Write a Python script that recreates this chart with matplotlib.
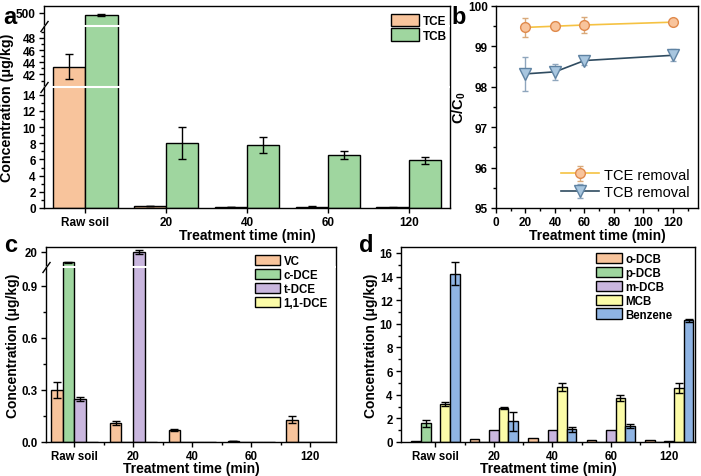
import numpy as np
import matplotlib
matplotlib.use('Agg')
import matplotlib.pyplot as plt
from matplotlib.ticker import FixedLocator, MultipleLocator

plt.rcParams['font.family'] = ['Liberation Sans', 'DejaVu Sans']
plt.rcParams['font.weight'] = 'bold'
plt.rcParams['axes.labelweight'] = 'bold'
plt.rcParams['mathtext.fontset'] = 'custom'
plt.rcParams['mathtext.rm'] = 'Liberation Sans:bold'
plt.rcParams['mathtext.bf'] = 'Liberation Sans:bold'
plt.rcParams['mathtext.default'] = 'bf'

# ---- data ----
groups = ['Raw soil', '20', '40', '60', '120']

# (a) TCE / TCB concentration
tce = [43.3, 0.25, 0.15, 0.18, 0.08]
tce_err = [2.0, 0.05, 0.03, 0.04, 0.02]
tcb = [499.6, 8.0, 7.8, 6.5, 5.9]
tcb_err = [0.12, 2.0, 1.0, 0.5, 0.45]

# (b) removal
times = [20, 40, 60, 120]
tce_rm = [99.47, 99.50, 99.53, 99.60]
tce_rm_err = [0.23, 0.10, 0.21, 0.05]
tcb_rm = [98.32, 98.37, 98.65, 98.78]
tcb_rm_err = [0.42, 0.20, 0.10, 0.15]

# (c) chloroethenes
vc = [0.30, 0.109, 0.069, 0.006, 0.128]
vc_err = [0.048, 0.01, 0.008, 0.002, 0.02]
cdce = [18.73, 0, 0, 0, 0]
cdce_err = [0.05, 0, 0, 0, 0]
tdce = [0.247, 20.03, 0, 0, 0]
tdce_err = [0.01, 0.25, 0, 0, 0]
dce11 = [0, 0, 0, 0, 0]
dce11_err = [0, 0, 0, 0, 0]

# (d) chlorobenzenes
odcb = [0.06, 0.28, 0.37, 0.17, 0.15]
odcb_err = [0, 0, 0, 0, 0]
pdcb = [1.58, 0, 0, 0, 0]
pdcb_err = [0.3, 0, 0, 0, 0]
mdcb = [0, 1.04, 1.04, 1.04, 0.1]
mdcb_err = [0, 0, 0, 0, 0]
mcb = [3.25, 2.88, 4.65, 3.75, 4.57]
mcb_err = [0.17, 0.08, 0.32, 0.25, 0.45]
benz = [14.25, 1.75, 1.07, 1.35, 10.3]
benz_err = [1.0, 0.8, 0.2, 0.2, 0.15]

c_orange = '#F8C49C'
c_green = '#9FD69F'
c_purple = '#C9B6DE'
c_yellow = '#FCFCA8'
c_blue = '#8FB4E3'

W, H = 701, 477
fig = plt.figure(figsize=(W / 100, H / 100), dpi=100)


def px_axes(l, t, r, b):
    return fig.add_axes([l / W, 1 - b / H, (r - l) / W, (b - t) / H])


def piecewise(vals, pos):
    # broken y axis as a piecewise linear scale
    fwd = lambda y: np.interp(y, vals, pos)
    inv = lambda p: np.interp(p, pos, vals)
    return fwd, inv


def style(ax, fs):
    for s in ax.spines.values():
        s.set_linewidth(1.0)
    ax.tick_params(which='major', direction='out', length=3.5, width=1, labelsize=fs, pad=2.5)
    ax.tick_params(which='minor', direction='out', length=2, width=1)


def bars(ax, series, errs, colors, labels, width):
    x = np.arange(len(groups))
    n = len(series)
    for i in range(n):
        xi = x + (i - (n - 1) / 2) * width
        ax.bar(xi, series[i], width, color=colors[i], edgecolor='black',
               linewidth=1, label=labels[i], zorder=2)
        e = np.array(errs[i])
        m = e > 0
        if m.any():
            ax.errorbar(xi[m], np.array(series[i])[m], yerr=e[m], fmt='none',
                        ecolor='black', elinewidth=1, capsize=3, capthick=1, zorder=3)


def break_mark(ax, y):
    # white gap across the bars plus a slash on the left spine
    ax.axhline(y, xmin=0.003, xmax=0.997, color='white', lw=1.5, zorder=4)
    ax.plot([0], [y], marker=[(-1, -1.4), (1, 1.4)], markersize=8, color='black',
            mew=1, transform=ax.get_yaxis_transform(), clip_on=False, zorder=5,
            linestyle='none')


# ---- (a) ----
ax = px_axes(44, 7, 450, 209)
fwd, inv = piecewise([0, 15, 40, 50, 498, 501],
                     [0, 0.6005, 0.6006, 0.9025, 0.9026, 1.0])
ax.set_yscale('function', functions=(fwd, inv))
bars(ax, [tce, tcb], [tce_err, tcb_err], [c_orange, c_green], ['TCE', 'TCB'], 0.4)
ax.set_ylim(0, 501)
ax.set_xlim(-0.51, 4.51)
ax.yaxis.set_major_locator(FixedLocator([0, 2, 4, 6, 8, 10, 12, 14, 42, 44, 46, 48, 500]))
ax.yaxis.set_minor_locator(FixedLocator([1, 3, 5, 7, 9, 11, 13, 41, 43, 45, 47, 49]))
ax.set_xticks(range(len(groups)))
ax.set_xticklabels(groups)
style(ax, 8.5)
break_mark(ax, 15)
break_mark(ax, 50)
ax.set_ylabel('Concentration (μg/kg)', fontsize=10.3, labelpad=1)
ax.set_xlabel('Treatment time (min)', fontsize=10, labelpad=0)
ax.legend(loc='upper right', bbox_to_anchor=(1.012, 1.0), frameon=False, fontsize=8.5,
          handlelength=2.4, handleheight=1.2, labelspacing=0.1, handletextpad=0.3,
          borderaxespad=0.3)

# ---- (b) ----
ax = px_axes(496, 7, 698, 209)
ax.errorbar(times, tce_rm, yerr=tce_rm_err, color='#F5C242', lw=1.2, marker='o',
            ms=7, mfc='#F8C49C', mec='#E08A4C', mew=1, ecolor='#D9A97A',
            elinewidth=1, capsize=2.5, label='TCE removal')
ax.errorbar(times, tcb_rm, yerr=tcb_rm_err, color='#2F4B60', lw=1.2, marker='v',
            ms=8, mfc='#A8C6DF', mec='#5F83A3', mew=1, ecolor='#8FA6BD',
            elinewidth=1, capsize=2.5, label='TCB removal')
ax.set_xlim(0, 137)
ax.set_ylim(95, 100)
ax.xaxis.set_major_locator(MultipleLocator(20))
ax.xaxis.set_minor_locator(MultipleLocator(10))
ax.yaxis.set_major_locator(MultipleLocator(1))
ax.yaxis.set_minor_locator(MultipleLocator(0.5))
style(ax, 8.5)
ax.set_ylabel('C/C$_0$', fontsize=10.5, labelpad=0)
ax.set_xlabel('Treatment time (min)', fontsize=10, labelpad=0)
ax.legend(loc='lower right', frameon=False, prop={'size': 10.5, 'weight': 'normal'},
          handlelength=2.6, labelspacing=0.25, handletextpad=0.3, borderaxespad=0.2)

# ---- (c) ----
ax = px_axes(46, 248, 336, 443)
fwd, inv = piecewise([0, 1.01, 18.2, 20.6], [0, 0.899, 0.8991, 1.0])
ax.set_yscale('function', functions=(fwd, inv))
bars(ax, [vc, cdce, tdce, dce11], [vc_err, cdce_err, tdce_err, dce11_err],
     [c_orange, c_green, c_purple, c_yellow], ['VC', 'c-DCE', 't-DCE', '1,1-DCE'], 0.2)
ax.set_ylim(0, 20.6)
ax.set_xlim(-0.48, 4.44)
ax.yaxis.set_major_locator(FixedLocator([0, 0.3, 0.6, 0.9, 20]))
ax.set_yticklabels(['0.0', '0.3', '0.6', '0.9', '20'])
ax.yaxis.set_minor_locator(FixedLocator([0.15, 0.45, 0.75]))
ax.set_xticks(range(len(groups)))
ax.set_xticklabels(groups)
ax.xaxis.set_minor_locator(FixedLocator([-0.5, 0.5, 1.5, 2.5, 3.5]))
style(ax, 8.3)
break_mark(ax, 1.01)
ax.set_ylabel('Concentration (μg/kg)', fontsize=10, labelpad=1)
ax.set_xlabel('Treatment time (min)', fontsize=10, labelpad=-1)
ax.legend(loc='upper right', frameon=False, fontsize=8.3, handlelength=2.2,
          handleheight=1.0, labelspacing=0.15, handletextpad=0.3, borderaxespad=0.3)

# ---- (d) ----
ax = px_axes(401, 248, 695, 443)
bars(ax, [odcb, pdcb, mdcb, mcb, benz],
     [odcb_err, pdcb_err, mdcb_err, mcb_err, benz_err],
     [c_orange, c_green, c_purple, c_yellow, c_blue],
     ['o-DCB', 'p-DCB', 'm-DCB', 'MCB', 'Benzene'], 0.165)
ax.set_ylim(0, 16.5)
ax.set_xlim(-0.59, 4.44)
ax.yaxis.set_major_locator(MultipleLocator(2))
ax.yaxis.set_minor_locator(MultipleLocator(1))
ax.set_xticks(range(len(groups)))
ax.set_xticklabels(groups)
ax.xaxis.set_minor_locator(FixedLocator([0.5, 1.5, 2.5, 3.5]))
style(ax, 8.3)
ax.set_ylabel('Concentration (μg/kg)', fontsize=10, labelpad=1)
ax.set_xlabel('Treatment time (min)', fontsize=10, labelpad=-1)
ax.legend(loc='upper right', bbox_to_anchor=(0.95, 1.01), frameon=False, fontsize=8.3,
          handlelength=2.2, handleheight=1.0, labelspacing=0.15, handletextpad=0.3,
          borderaxespad=0.3)

# panel letters
for lab, x, y in [('a', 3, 24), ('b', 451, 24), ('c', 4, 252), ('d', 359, 252)]:
    fig.text(x / W, 1 - y / H, lab, fontsize=17, fontweight='bold', va='baseline')

fig.savefig('out.png', dpi=100)
